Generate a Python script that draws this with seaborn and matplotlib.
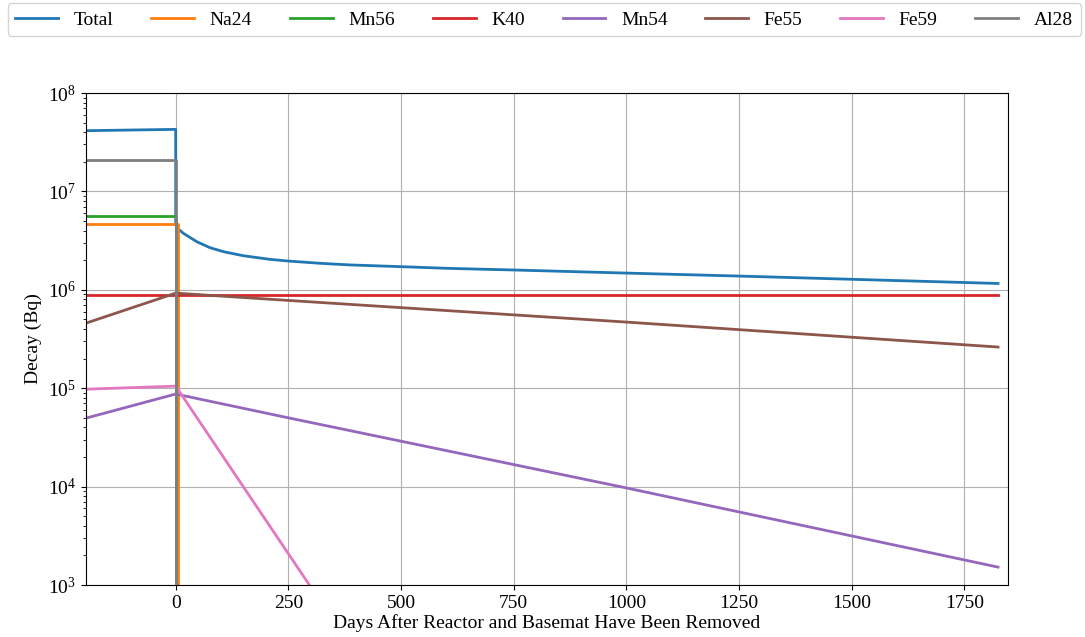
import matplotlib
matplotlib.use("Agg")
import matplotlib.pyplot as plt
import seaborn as sns
import numpy as np

# ---- data ----
total_days = [-200, 0, 0, 2.4, 17, 47, 76, 106, 150, 209, 250, 320, 387, 498, 608, 750,
              998, 1248, 1498, 1825]
total_vals = [4.14e7, 4.27e7, 4.6e6, 4.28e6, 3.75e6, 3.08e6, 2.68e6, 2.44e6, 2.22e6, 2.04e6,
              1.96e6, 1.86e6, 1.79e6, 1.72e6, 1.65e6, 1.59e6, 1.48e6, 1.38e6, 1.28e6, 1.16e6]

na24_days = [-200, 0, 6, 6]
na24_vals = [4.68e6, 4.68e6, 4.68e6, 1e-2]

mn56_days = [-200, 0, 0]
mn56_vals = [5.56e6, 5.56e6, 1e-2]

k40_days = [-200, 0, 1825]
k40_vals = [8.85e5, 8.85e5, 8.85e5]

mn54_days = [-200, 0, 250, 1000, 1825]
mn54_vals = [4.95e4, 8.73e4, 5.0e4, 9.7e3, 1.52e3]

fe55_days = [-200, 0, 250, 1000, 1825]
fe55_vals = [4.57e5, 9.25e5, 7.8e5, 4.7e5, 2.62e5]

fe59_days = [-200, 0, 300, 600]
fe59_vals = [9.77e4, 1.05e5, 9.5e2, 8.5]

al28_days = [-200, 0, 0]
al28_vals = [2.09e7, 2.09e7, 1e-2]

series = [
    ("Total", total_days, total_vals),
    ("Na24", na24_days, na24_vals),
    ("Mn56", mn56_days, mn56_vals),
    ("K40", k40_days, k40_vals),
    ("Mn54", mn54_days, mn54_vals),
    ("Fe55", fe55_days, fe55_vals),
    ("Fe59", fe59_days, fe59_vals),
    ("Al28", al28_days, al28_vals),
]

plt.rcParams["font.family"] = ["Liberation Serif", "DejaVu Serif"]
plt.rcParams["mathtext.fontset"] = "stix"

fig = plt.figure(figsize=(10.85, 6.37), dpi=100)
ax = fig.add_axes([0.0793, 0.0816, 0.8497, 0.7724])
ax.set_yscale("log")

colors = plt.rcParams["axes.prop_cycle"].by_key()["color"]
for i, (name, d, v) in enumerate(series):
    sns.lineplot(x=d, y=v, ax=ax, label=name, color=colors[i], estimator=None,
                 sort=False, linewidth=2)

ax.set_xlim(-199, 1847)
ax.set_ylim(1e3, 1e8)
ax.grid(True, which="major", color="#b0b0b0", linewidth=0.8)
ax.set_xlabel("Days After Reactor and Basemat Have Been Removed", fontsize=14, labelpad=2)
ax.set_ylabel("Decay (Bq)", fontsize=14)
ax.tick_params(axis="both", which="major", labelsize=14)

handles, labels = ax.get_legend_handles_labels()
ax.get_legend().remove()
fig.legend(handles, labels, loc="upper left", bbox_to_anchor=(0.007, 0.995, 0.989, 0),
           mode="expand", ncol=8, fontsize=14, handlelength=2.2, borderaxespad=0.0,
           frameon=True)

fig.savefig("out.png", dpi=100)
